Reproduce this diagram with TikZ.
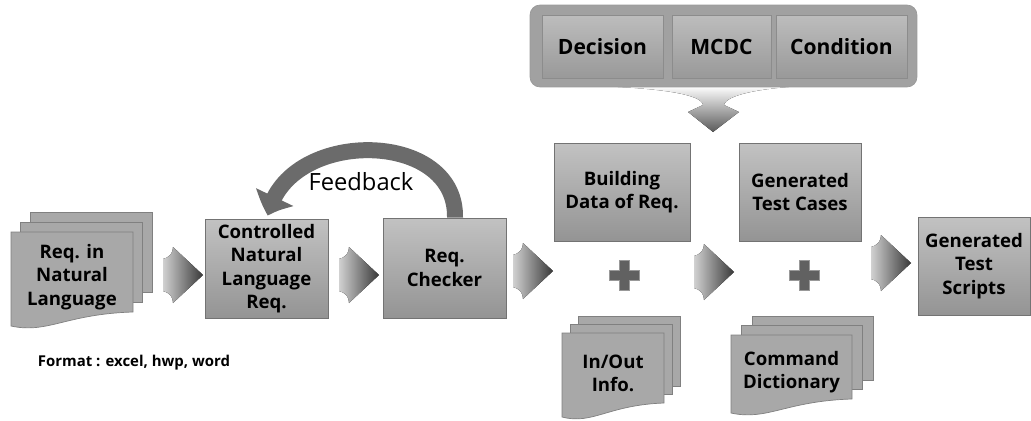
\documentclass[tikz,border=0pt]{standalone}
\usepackage{fontspec}
\setmainfont{Open Sans}
\usepackage{tikz}
\usetikzlibrary{arrows.meta}
\usetikzlibrary{bending}
\usetikzlibrary{calc}

\tikzset{
  stepbox/.style={draw=black!55, top color=black!24, bottom color=black!42,
    align=center, inner sep=0pt, font=\bfseries\fontsize{10.6}{13.4}\selectfont},
  tabbox/.style={draw=black!45, top color=black!26, bottom color=black!40,
    inner sep=0pt, minimum height=1.26cm, font=\bfseries\fontsize{12}{14}\selectfont},
  page/.style={draw=black!50, fill=black!34},
  pagetext/.style={align=center, font=\bfseries\fontsize{10.6}{13.2}\selectfont},
  shade arrow/.style={left color=black!18, right color=black!78},
  plusmark/.style={draw=black!40, fill=black!62},
  chevron/.pic={
    \fill[shade arrow] (-20,-16) .. controls (-13,-18) and (-10,-22) .. (-10,-28)
      -- (20,0) -- (-10,28) .. controls (-10,22) and (-13,18) .. (-20,16) -- cycle;
  },
  plussign/.pic={
    \draw[plusmark] (-5,-15) -- (5,-15) -- (5,-5) -- (15,-5) -- (15,5) -- (5,5)
      -- (5,15) -- (-5,15) -- (-5,5) -- (-15,5) -- (-15,-5) -- (-5,-5) -- cycle;
  }
}

% stack of three pages: name, x, y, width, height, dx, dy, text
\newcommand{\pagestack}[8]{%
  \draw[page] (#2+2*#6,#3-2*#7) rectangle ++(#4,#5);
  \draw[page] (#2+#6,#3-#7) rectangle ++(#4,#5);
  \draw[page] (#2,#3) -- (#2+#4,#3) -- (#2+#4,#3+#5)
    .. controls (#2+0.45*#4,#3+#5+2) and (#2+0.3*#4,#3+#5+22) .. (#2,#3+#5+14) -- cycle;
  \node[pagetext] (#1) at (#2+0.5*#4,#3+0.5*#5+5) {#8};
}

\begin{document}
\begin{tikzpicture}[x=0.02cm, y=-0.02cm]
	\useasboundingbox (0,0) rectangle (1031,420);
	% input requirements
	\pagestack{req}{11}{232}{122}{80}{9.5}{10}{Req. in\\Natural\\Language}
	\node[font=\bfseries\fontsize{8.5}{10}\selectfont] (fmt) at (134,363) {Format : excel, hwp, word};
	% main chain
	\node[stepbox, minimum width=2.46cm, minimum height=1.98cm] (ctrl) at (266.5,268.5)
		{Controlled\\Natural\\Language\\Req.};
	\node[stepbox, minimum width=2.46cm, minimum height=2cm] (check) at (444.5,268)
		{Req.\\Checker};
	\node[stepbox, minimum width=2.72cm, minimum height=1.96cm] (build) at (622,192)
		{Building\\Data of Req.};
	\node[stepbox, minimum width=2.44cm, minimum height=1.96cm] (cases) at (800,192)
		{Generated\\Test Cases};
	\node[stepbox, minimum width=2.24cm, minimum height=1.96cm] (scripts) at (974,266)
		{Generated\\Test\\Scripts};
	\pagestack{inout}{562}{333}{102}{70}{8}{8.5}{In/Out\\Info.}
	\pagestack{dict}{731}{335}{121}{64}{10.5}{9.5}{Command\\Dictionary}
	\pic at (183,275) {chevron};
	\pic at (359,275) {chevron};
	\pic at (533,271) {chevron};
	\pic at (714,272) {chevron};
	\pic at (891,263) {chevron};
	\pic at (624,275) {plussign};
	\pic at (804,275) {plussign};
	% feedback loop
	\draw[line width=0.32cm, black!58, -{Triangle[width=0.8cm, length=0.4cm, bend]}]
		($(check.north)+(10.5,0)$) .. controls (457,128) and (285,128) .. ($(ctrl.north)+(1.5,-3)$);
	\node[font=\fontsize{13.5}{16}\selectfont] (fb) at (361,182) {Feedback};
	% coverage criteria
	\fill[top color=white, bottom color=black!65] (592,86) .. controls (665,88) and (702,95) .. (703,105)
		-- (688,112) -- (713,132) -- (739,112) -- (724,105) .. controls (726,95) and (760,88) .. (805,86) -- cycle;
	\node[draw=black!40, fill=black!37, rounded corners=0.2cm, minimum width=7.74cm,
		minimum height=1.64cm] (crit) at (723.5,46) {};
	\node[tabbox, minimum width=2.42cm] (dec) at (602.5,46.5) {Decision};
	\node[tabbox, minimum width=1.98cm] (mcdc) at (721.5,46.5) {MCDC};
	\node[tabbox, minimum width=2.62cm] (cond) at (841.5,46.5) {Condition};
\end{tikzpicture}
\end{document}
